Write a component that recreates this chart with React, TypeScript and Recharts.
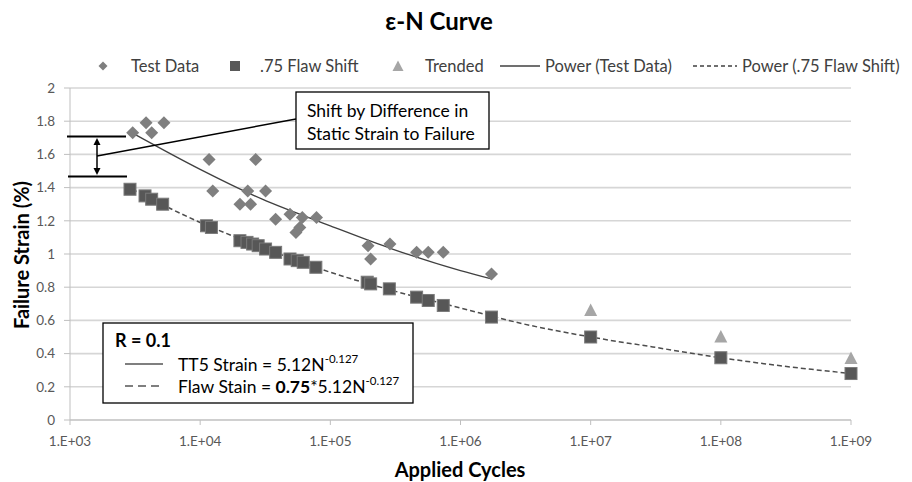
import React from 'react'
import { ComposedChart, Scatter, Line, XAxis, YAxis, CartesianGrid } from 'recharts'

const FONT = 'Lato, "Open Sans", sans-serif'

// test data
const testCycles = [3.03e3, 3.84e3, 4.24e3, 5.27e3, 1.17e4, 1.25e4, 2.02e4, 2.32e4, 2.44e4, 2.67e4, 3.18e4, 3.8e4, 4.9e4, 5.44e4, 5.83e4, 6.09e4, 7.83e4, 1.95e5, 2.04e5, 2.87e5, 4.6e5, 5.65e5, 7.37e5, 1.73e6]
const testStrain = [1.73, 1.79, 1.73, 1.79, 1.57, 1.38, 1.3, 1.38, 1.3, 1.57, 1.38, 1.21, 1.24, 1.13, 1.16, 1.22, 1.22, 1.05, 0.97, 1.06, 1.01, 1.01, 1.01, 0.88]

const flawCycles = [2.89e3, 3.77e3, 4.24e3, 5.15e3, 1.12e4, 1.22e4, 2.02e4, 2.29e4, 2.53e4, 2.79e4, 3.18e4, 3.8e4, 4.9e4, 5.57e4, 6.19e4, 7.74e4, 1.92e5, 2.04e5, 2.84e5, 4.6e5, 5.65e5, 7.37e5, 1.73e6, 1e7, 1e8, 1e9]
const flawStrain = [1.39, 1.35, 1.33, 1.3, 1.17, 1.16, 1.08, 1.07, 1.06, 1.05, 1.03, 1.01, 0.97, 0.96, 0.95, 0.92, 0.83, 0.82, 0.79, 0.74, 0.72, 0.69, 0.62, 0.5, 0.375, 0.28]

const trendCycles = [1e7, 1e8, 1e9]
const trendStrain = [0.66, 0.5, 0.37]

// trend lines
const powerTestCycles = [3e3, 1e4, 3e4, 1e5, 3e5, 1e6, 1.73e6]
const powerTestStrain = [1.73, 1.51, 1.33, 1.17, 1.03, 0.9, 0.85]
const powerFlawCycles = [3e3, 1e4, 3e4, 1e5, 3e5, 1e6, 3e6, 1e7, 3e7, 1e8, 3e8, 1e9]
const powerFlawStrain = [1.39, 1.19, 1.04, 0.89, 0.78, 0.675, 0.58, 0.5, 0.44, 0.375, 0.325, 0.28]

const xTicks = [1e3, 1e4, 1e5, 1e6, 1e7, 1e8, 1e9]
const yTicks = [0, 0.2, 0.4, 0.6, 0.8, 1, 1.2, 1.4, 1.6, 1.8, 2]

const zip = (n: number[], v: number[]) => n.map((x, i) => ({ n: x, v: v[i] }))

const testData = zip(testCycles, testStrain)
const flawData = zip(flawCycles, flawStrain)
const trendData = zip(trendCycles, trendStrain)
const powerTest = zip(powerTestCycles, powerTestStrain)
const powerFlaw = zip(powerFlawCycles, powerFlawStrain)

const fmtX = (v: number) => `1.E+${String(Math.round(Math.log10(v))).padStart(2, '0')}`

const Diamond = (p: any) => {
  const { cx, cy } = p
  const r = 6.5
  return <polygon points={`${cx},${cy - r} ${cx + r},${cy} ${cx},${cy + r} ${cx - r},${cy}`} fill="#7f7f7f" />
}
const Square = (p: any) => <rect x={p.cx - 6} y={p.cy - 6} width={12} height={12} fill="#575757" stroke="#7a7a7a" strokeWidth={1} />
const Triangle = (p: any) => {
  const { cx, cy } = p
  return <polygon points={`${cx},${cy - 7} ${cx + 6.5},${cy + 5.5} ${cx - 6.5},${cy + 5.5}`} fill="#a6a6a6" />
}

const tickStyle = { fontSize: 13.5, fill: '#595959', fontFamily: FONT }

function Overlay() {
  const lg = { fontSize: 16.5, fill: '#404040', fontFamily: FONT, dominantBaseline: 'central' as const }
  const box = { fontSize: 17.5, fill: '#000', fontFamily: FONT, dominantBaseline: 'central' as const }
  return (
    <svg width={912} height={482} style={{ position: 'absolute', left: 0, top: 0, pointerEvents: 'none' }}>
      <text x={439} y={20} textAnchor="middle" dominantBaseline="central" fontSize={24} fontWeight="bold" fontFamily={FONT} fill="#000">ε-N Curve</text>

      {/* legend */}
      <polygon points="103,61.5 107.5,66 103,70.5 98.5,66" fill="#7f7f7f" />
      <text x={131} y={66} {...lg}>Test Data</text>
      <rect x={230} y={61} width={10} height={10} fill="#595959" />
      <text x={260} y={66} {...lg}>.75 Flaw Shift</text>
      <polygon points="398,60.5 403.5,71 392.5,71" fill="#a6a6a6" />
      <text x={425} y={66} {...lg}>Trended</text>
      <line x1={500} y1={66} x2={540} y2={66} stroke="#404040" strokeWidth={1.3} />
      <text x={545} y={66} {...lg}>Power (Test Data)</text>
      <line x1={693} y1={66} x2={737} y2={66} stroke="#404040" strokeWidth={1.3} strokeDasharray="4 3" />
      <text x={742} y={66} {...lg}>Power (.75 Flaw Shift)</text>

      {/* axis titles */}
      <text x={21} y={255} transform="rotate(-90 21 255)" textAnchor="middle" dominantBaseline="central" fontSize={20} fontWeight="bold" fontFamily={FONT} fill="#000">Failure Strain (%)</text>
      <text x={460} y={469} textAnchor="middle" dominantBaseline="central" fontSize={20} fontWeight="bold" fontFamily={FONT} fill="#000">Applied Cycles</text>

      {/* shift annotation */}
      <line x1={67} y1={136.5} x2={126} y2={136.5} stroke="#000" strokeWidth={2} />
      <line x1={68} y1={176.5} x2={127} y2={176.5} stroke="#000" strokeWidth={2} />
      <line x1={97} y1={142} x2={97} y2={171} stroke="#000" strokeWidth={1.5} />
      <polygon points="97,138 100.5,145 93.5,145" fill="#000" />
      <polygon points="97,175 100.5,168 93.5,168" fill="#000" />
      <line x1={97} y1={156} x2={296} y2={119} stroke="#000" strokeWidth={1.5} />
      <rect x={296} y={92} width={193} height={57} fill="#fff" stroke="#000" strokeWidth={1.3} />
      <text x={307} y={110} {...box}>Shift by Difference in</text>
      <text x={307} y={133} {...box}>Static Strain to Failure</text>

      {/* equation box */}
      <rect x={103} y={323} width={310} height={80} fill="#fff" stroke="#000" strokeWidth={1.3} />
      <text x={115} y={340} {...box} fontWeight="bold" fontSize={18}>R = 0.1</text>
      <line x1={125} y1={364} x2={163} y2={364} stroke="#000" strokeWidth={1.2} />
      <text x={178} y={364} {...box}>
        TT5 Strain = 5.12N<tspan dy={-6} fontSize={11.5}>-0.127</tspan>
      </text>
      <line x1={125} y1={386} x2={163} y2={386} stroke="#000" strokeWidth={1.2} strokeDasharray="8 5" />
      <text x={178} y={386} {...box}>
        Flaw Stain = <tspan fontWeight="bold">0.75</tspan>*5.12N<tspan dy={-6} fontSize={11.5}>-0.127</tspan>
      </text>
    </svg>
  )
}

export default function App() {
  return (
    <div style={{ position: 'absolute', left: 0, top: 0, width: 912, height: 482, background: '#fff' }}>
      <ComposedChart width={912} height={482} margin={{ top: 88, right: 61, bottom: 0, left: 0 }}>
        <CartesianGrid vertical={false} stroke="#d6d6d6" strokeWidth={1.6} />
        <XAxis
          dataKey="n"
          type="number"
          scale="log"
          domain={[1e3, 1e9]}
          ticks={xTicks}
          tickFormatter={fmtX}
          height={62}
          tickSize={5}
          tickMargin={11}
          stroke="#bfbfbf"
          tick={tickStyle}
        />
        <YAxis
          dataKey="v"
          type="number"
          domain={[0, 2]}
          ticks={yTicks}
          width={70}
          tickSize={6}
          tickMargin={9}
          stroke="#bfbfbf"
          tick={tickStyle}
          interval={0}
        />
        <Scatter data={testData} shape={Diamond} isAnimationActive={false} />
        <Scatter data={flawData} shape={Square} isAnimationActive={false} />
        <Scatter data={trendData} shape={Triangle} isAnimationActive={false} />
        <Line data={powerTest} dataKey="v" type="monotone" dot={false} stroke="#404040" strokeWidth={1.3} isAnimationActive={false} />
        <Line data={powerFlaw} dataKey="v" type="monotone" dot={false} stroke="#4d4d4d" strokeWidth={1.5} strokeDasharray="5 3" isAnimationActive={false} />
      </ComposedChart>
      <Overlay />
    </div>
  )
}
